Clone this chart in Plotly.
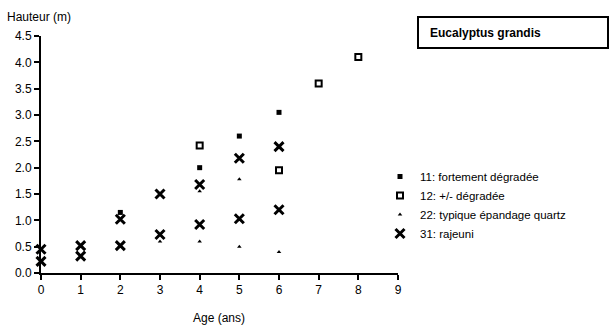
import plotly.graph_objects as go

# Data
s11_x = [2, 4, 5, 6]
s11_y = [1.15, 2.0, 2.6, 3.05]
s12_x = [4, 6, 7, 8]
s12_y = [2.42, 1.95, 3.6, 4.1]
s22_x = [3, 4, 4, 5, 5, 6]
s22_y = [0.6, 1.55, 0.6, 1.78, 0.5, 0.4]
s31_x = [0, 0, 1, 1, 2, 2, 3, 3, 4, 4, 5, 5, 6, 6]
s31_y = [0.45, 0.22, 0.52, 0.32, 1.02, 0.52, 1.5, 0.73, 1.68, 0.92, 2.18, 1.03, 2.4, 1.2]
names = ["11: fortement dégradée", "12: +/- dégradée", "22: typique épandage quartz", "31: rajeuni"]
x_ticks = list(range(0, 10))
y_ticks = [0, 0.5, 1, 1.5, 2, 2.5, 3, 3.5, 4, 4.5]

fig = go.Figure()
fig.add_trace(go.Scatter(x=s11_x, y=s11_y, mode="markers", name=names[0], cliponaxis=False,
                         marker=dict(symbol="square", size=5, color="black")))
fig.add_trace(go.Scatter(x=s12_x, y=s12_y, mode="markers", name=names[1], cliponaxis=False,
                         marker=dict(symbol="square-open", size=6, color="black", line=dict(width=2, color="black"))))
fig.add_trace(go.Scatter(x=s22_x, y=s22_y, mode="markers", name=names[2], cliponaxis=False,
                         marker=dict(symbol="triangle-up", size=4, color="black")))
fig.add_trace(go.Scatter(x=s31_x, y=s31_y, mode="markers", name=names[3], cliponaxis=False,
                         marker=dict(symbol="x-thin", size=9, color="black", line=dict(width=3, color="black"))))

L, R, T, B = 41, 398, 36, 273
W, H = 613, 329

def px(xp):
    return (xp - L) / (R - L)

def py(yp):
    return (B - yp) / (B - T)

fig.update_layout(
    width=W, height=H,
    margin=dict(l=L, r=W - R, t=T, b=H - B, pad=0),
    plot_bgcolor="white", paper_bgcolor="white",
    font=dict(family="Liberation Sans, Arial", size=12, color="black"),
    showlegend=True,
    legend=dict(x=px(380), y=py(162), xanchor="left", yanchor="top",
                bgcolor="rgba(0,0,0,0)", font=dict(size=11.5), itemwidth=30,
                tracegroupgap=0),
    xaxis=dict(range=[0, 9], tickvals=x_ticks, ticktext=[str(v) for v in x_ticks],
               showgrid=False, zeroline=False, showline=True, linecolor="black", linewidth=2,
               ticks="outside", ticklen=5, tickwidth=2, tickcolor="black", fixedrange=True),
    yaxis=dict(range=[0, 4.5], tickvals=y_ticks, ticktext=[f"{v:.1f}" for v in y_ticks],
               showgrid=False, zeroline=False, showline=True, linecolor="black", linewidth=2,
               ticks="outside", ticklen=5, tickwidth=2, tickcolor="black", fixedrange=True),
)

fig.add_annotation(text="Hauteur (m)", xref="paper", yref="paper", x=px(5), y=py(17),
                   xanchor="left", yanchor="middle", showarrow=False, font=dict(size=12))
fig.add_annotation(text="Age (ans)", xref="paper", yref="paper", x=px(219), y=py(318),
                   xanchor="center", yanchor="middle", showarrow=False, font=dict(size=12))

fig.add_shape(type="rect", xref="paper", yref="paper", x0=px(418), x1=px(608), y0=py(48), y1=py(17),
              line=dict(color="black", width=2), fillcolor="white", layer="below")
fig.add_annotation(text="<b>Eucalyptus grandis</b>", xref="paper", yref="paper", x=px(428), y=py(33),
                   xanchor="left", yanchor="middle", showarrow=False, font=dict(size=12))

fig.write_html("out.html")
